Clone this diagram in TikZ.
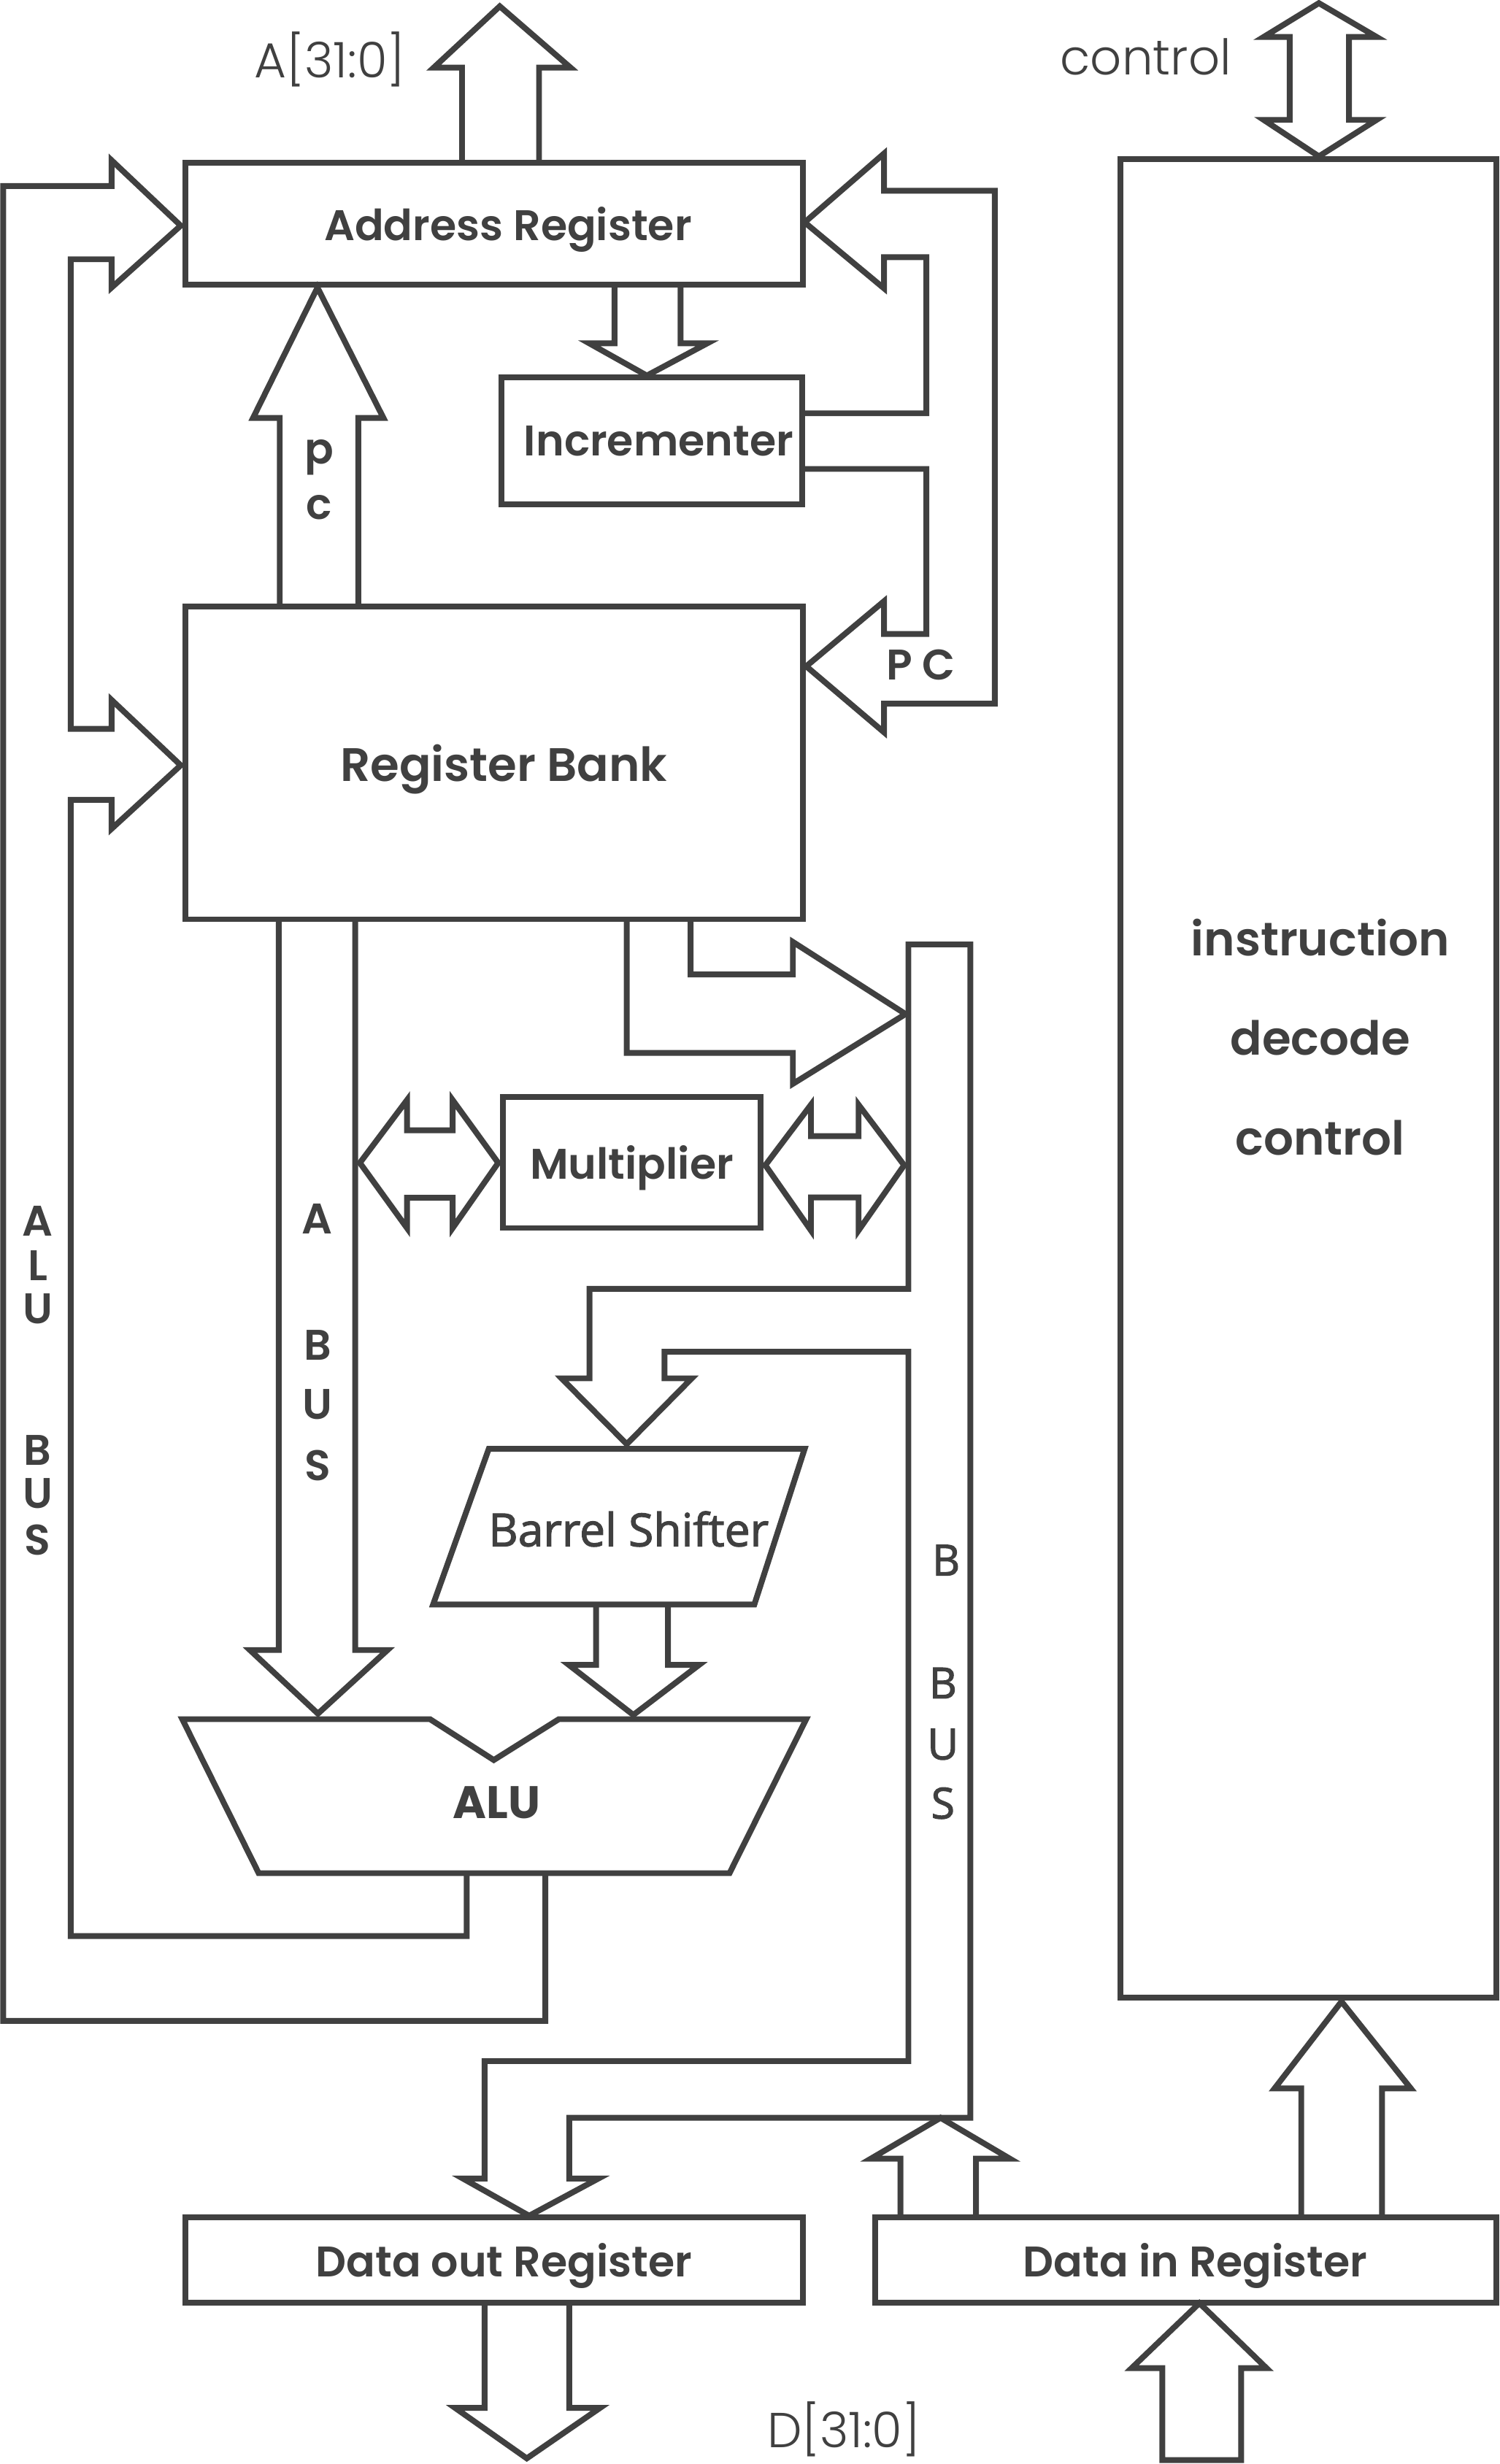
\documentclass[tikz,border=0pt]{standalone}
\usepackage{fontspec}
\setmainfont{Poppins}[UprightFont=* SemiBold,BoldFont=* Bold]
\newfontfamily\thinfont{Poppins}[UprightFont=* Light]
\newfontfamily\osans{Open Sans}[FakeBold=2]
\usetikzlibrary{positioning}
\definecolor{ink}{RGB}{64,64,64}

\begin{document}
\begin{tikzpicture}[x=0.02cm,y=-0.02cm,line width=2.1pt,color=ink,
    box/.style={draw,rectangle,inner sep=0pt,text depth=0pt,font=\fontsize{15.5}{18}\selectfont},
    lbl/.style={inner sep=0pt,font=\fontsize{15.5}{18}\selectfont},
    thin/.style={inner sep=0pt,font=\thinfont\fontsize{17.8}{21}\selectfont}]
  \useasboundingbox (0,0) rectangle (954,1568);

  \node (addr) [box,minimum width=7.86cm,minimum height=1.55cm] at (314.5,142.2) {\hspace*{10pt}Address Register};
  \node (incr) [box,minimum width=3.83cm,minimum height=1.62cm] at (414.8,280.5) {\hspace*{5pt}Incrementer};
  \node (bank) [box,minimum width=7.86cm,minimum height=3.98cm,font=\fontsize{17}{20}\selectfont] at (314.5,485.5) {\hspace*{7pt}Register Bank};
  \node (mult) [box,minimum width=3.28cm,minimum height=1.67cm] at (402,739.7) {Multiplier};
  \node (instr) [box,minimum width=4.78cm,minimum height=23.41cm] at (832.5,686.2) {};
  \node (instrtxt) [lbl,align=center,font=\fontsize{17}{36}\selectfont] at (840,660) {instruction\\decode\\control};
  \node (dout) [box,minimum width=7.86cm,minimum height=1.09cm] at (314.5,1438.3) {\hspace*{7pt}Data out Register};
  \node (din) [box,minimum width=7.9cm,minimum height=1.09cm] at (754.5,1438.3) {\hspace*{7pt}Data in Register};

  \draw (116,1094) -- (273.6,1094) -- (314.2,1120) -- (355.6,1094) -- (513,1094) -- (464.2,1192) -- (164.6,1192) -- cycle;
  \node (alu) [lbl,font=\bfseries\fontsize{16.5}{19}\selectfont] at (316,1147) {ALU};
  \draw (311,922) -- (512,922) -- (480,1021) -- (275.6,1021) -- cycle;
  \node (shift) [lbl,font=\osans\fontsize{16.5}{19}\selectfont] at (400,973) {Barrel Shifter};

  \node (abus) [thin] at (210,38) {A[31:0]};
  \node (ctrl) [thin] at (729,36) {control};
  \node (dbus) [thin] at (537,1546) {D[31:0]};

  \draw (294,103.5) -- (294,43) -- (276,43) -- (318,4) -- (363,43) -- (343,43) -- (343,103.5);
  \draw (839.2,2) -- (804.1,23.5) -- (820.6,23.5) -- (820.6,76.3) -- (804.1,76.3) -- (839.2,99.5)
    -- (875.9,76.3) -- (858.4,76.3) -- (858.4,23.5) -- (875.9,23.5) -- cycle;

  \draw (178,386) -- (178,266) -- (161,266) -- (202,183) -- (244,266) -- (228,266) -- (228,386);
  \node (p) [lbl] at (203,291) {p};
  \node (c) [lbl] at (203,323) {c};
  \draw (391,181) -- (391,218.5) -- (375,218.5) -- (411.6,239) -- (450,218.5) -- (433,218.5) -- (433,181);

  \draw (510.5,263) -- (589.4,263) -- (589.4,163.7) -- (562.5,163.7) -- (562.5,183.5) -- (512,141.5)
    -- (562.5,97.7) -- (562.5,121.4) -- (633,121.4) -- (633,447.8) -- (562.5,447.8) -- (562.5,466)
    -- (513,424) -- (562.5,382.6) -- (562.5,403.4) -- (589.4,403.4) -- (589.4,298.4) -- (510.5,298.4);
  \node (pc) [lbl] at (586,423) {P C};

  \draw (347,1192) -- (347,1286) -- (2,1286) -- (2,118.4) -- (71,118.4) -- (71,102) -- (115,143.6)
    -- (71,183) -- (71,165) -- (45,165) -- (45,463.8) -- (71,463.8) -- (71,445.4) -- (115,487)
    -- (71,527.4) -- (71,509) -- (45,509) -- (45,1232) -- (297,1232) -- (297,1192);
  \foreach \t/\y [count=\i] in {A/777,L/805.5,U/833,B/922.7,U/950.4,S/979.8}
    \node (alubus\i) [lbl] at (24,\y) {\t};

  \draw (177.4,585) -- (177.4,1050) -- (159,1050) -- (202.3,1090.5) -- (246.6,1050) -- (226,1050) -- (226,585);
  \foreach \t/\y [count=\i] in {A/775.5,B/856,U/893.5,S/932.5}
    \node (abusl\i) [lbl] at (202,\y) {\t};

  \draw (229,740) -- (259,700) -- (259,719.3) -- (288,719.3) -- (288,700) -- (317,740)
    -- (288,781.5) -- (288,762.2) -- (259,762.2) -- (259,781.5) -- cycle;
  \draw (487,741.5) -- (516,703) -- (516,723) -- (546.3,723) -- (546.3,703) -- (575.3,741.5)
    -- (546.3,783) -- (546.3,762) -- (516,762) -- (516,783) -- cycle;

  \draw (398.8,585) -- (398.8,670) -- (504.5,670) -- (504.5,689.7) -- (576.2,645.3) -- (504.5,599.4)
    -- (504.5,620.1) -- (439.4,620.1) -- (439.4,585);

  \draw (578,601) -- (578,820.2) -- (375.1,820.2) -- (375.1,877.1) -- (357.3,877.1) -- (398.8,919)
    -- (440.2,877.1) -- (422.8,877.1) -- (422.8,860.2) -- (578,860.2) -- (578,1311.6) -- (308.3,1311.6)
    -- (308.3,1386.3) -- (294.5,1386.3) -- (336.7,1410) -- (380.8,1386.3) -- (362.2,1386.3)
    -- (362.2,1347.7) -- (617.4,1347.7) -- (617.4,601) -- cycle;
  \node (bbus0) [lbl,font=\osans\fontsize{15.5}{18}\selectfont] at (602,992.8) {B};
  \foreach \t/\y [count=\i] in {B/1071,U/1110,S/1147.5}
    \node (bbus\i) [lbl,font=\osans\fontsize{15.5}{18}\selectfont] at (600,\y) {\t};

  \draw (379.3,1021) -- (379.3,1059.5) -- (362,1059.5) -- (403,1091.3) -- (444.8,1059.5) -- (425,1059.5) -- (425,1021);

  \draw (308.3,1465.6) -- (308.3,1532.3) -- (289.6,1532.3) -- (335.2,1564.4) -- (381.8,1532.3) -- (362.2,1532.3) -- (362.2,1465.6);
  \draw (573,1411) -- (573,1373.7) -- (554.1,1373.7) -- (598.5,1347.7) -- (642.6,1373.7) -- (621,1373.7) -- (621,1411);
  \draw (828,1411) -- (828,1329) -- (811,1329) -- (853.6,1273.7) -- (897.7,1329) -- (879.4,1329) -- (879.4,1411);
  \draw (739.6,1565.5) -- (739.6,1507) -- (720,1507) -- (763.2,1465.6) -- (805.9,1507) -- (789.7,1507) -- (789.7,1565.5) -- cycle;
\end{tikzpicture}
\end{document}
